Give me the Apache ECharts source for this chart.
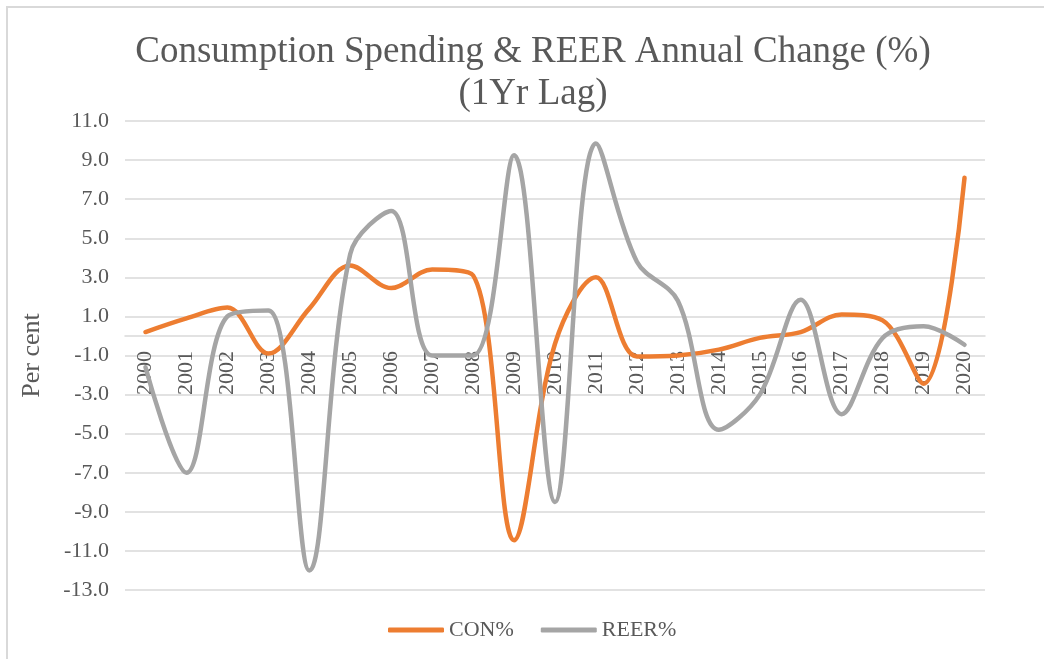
<!DOCTYPE html>
<html>
<head>
<meta charset="utf-8">
<title>Consumption Spending & REER</title>
<style>
  html, body { margin: 0; padding: 0; background: #fff; }
  #frame { position: absolute; left: 6px; top: 6px; width: 1044px; height: 659px;
           border-left: 2px solid #d9d9d9; border-top: 2px solid #d9d9d9; box-sizing: border-box; }
  #main { position: absolute; left: 0; top: 0; width: 1044px; height: 659px; }
</style>
</head>
<body>
<div id="frame"></div>
<div id="main"></div>
<script src="https://cdn.jsdelivr.net/npm/echarts@6/dist/echarts.min.js"></script>
<script>
// data
var years = ['2000','2001','2002','2003','2004','2005','2006','2007','2008','2009','2010',
             '2011','2012','2013','2014','2015','2016','2017','2018','2019','2020'];
var conPct = [0.2, 0.9, 1.45, -0.9, 1.4, 3.6, 2.45, 3.4, 3.1, -10.45, -0.4,
              3.0, -1.05, -1.0, -0.7, -0.1, 0.2, 1.1, 0.8, -2.45, 8.1];
var reerPct = [-1.6, -7.0, 1.0, 1.3, -12.0, 4.2, 6.4, -1.0, -1.0, 9.25, -8.5,
               9.85, 3.8, 1.8, -4.8, -3.0, 1.85, -4.0, -0.1, 0.5, -0.45];

var serif = '"Liberation Serif", "Times New Roman", serif';
var txt = '#595959';
var gridCol = '#d9d9d9';

var yMin = -13, yMax = 11;
var gridTop = 121, gridBottom = 69;
var plotH = 659 - gridTop - gridBottom;
// category axis sits on the zero line (like Excel), labels go with it
var zeroOffset = -Math.round(plotH * (0 - yMin) / (yMax - yMin));

var myChart = echarts.init(document.getElementById('main'));
var option = {
    backgroundColor: 'transparent',
    title: {
        text: 'Consumption Spending & REER Annual Change (%)\n(1Yr Lag)',
        left: 528,
        top: 26,
        textAlign: 'center',
        textStyle: { fontFamily: serif, fontSize: 37, fontWeight: 'normal', color: txt, lineHeight: 42 }
    },
    legend: {
        bottom: 13,
        left: 383,
        icon: 'roundRect',
        itemWidth: 56,
        itemHeight: 5,
        itemGap: 27,
        textStyle: { fontFamily: serif, fontSize: 22, color: txt },
        data: ['CON%', 'REER%']
    },
    grid: { left: 125, right: 59, top: gridTop, bottom: gridBottom },
    xAxis: {
        type: 'category',
        boundaryGap: true,
        data: years,
        offset: zeroOffset,
        axisLine: { onZero: false, lineStyle: { color: gridCol, width: 1.5 } },
        axisTick: { show: false },
        axisLabel: { rotate: 90, margin: 15, interval: 0, fontFamily: serif, fontSize: 22, color: txt }
    },
    yAxis: {
        type: 'value',
        min: yMin,
        max: yMax,
        interval: 2,
        name: 'Per cent',
        nameLocation: 'middle',
        nameRotate: 90,
        nameGap: 80,
        nameTextStyle: { fontFamily: serif, fontSize: 26, color: txt },
        axisLine: { show: false },
        axisTick: { show: false },
        axisLabel: {
            fontFamily: serif, fontSize: 22, color: txt, margin: 16,
            formatter: function (v) { return v.toFixed(1); }
        },
        splitLine: { lineStyle: { color: gridCol, width: 1.5 } }
    },
    series: [
        {
            name: 'CON%',
            type: 'line',
            smooth: 0.35,
            symbol: 'none',
            lineStyle: { color: '#ED7D31', width: 4.5, cap: 'round' },
            itemStyle: { color: '#ED7D31' },
            data: conPct
        },
        {
            name: 'REER%',
            type: 'line',
            smooth: 0.35,
            symbol: 'none',
            lineStyle: { color: '#A5A5A5', width: 4.5, cap: 'round' },
            itemStyle: { color: '#A5A5A5' },
            data: reerPct
        }
    ]
};
myChart.setOption(option);
</script>
</body>
</html>
